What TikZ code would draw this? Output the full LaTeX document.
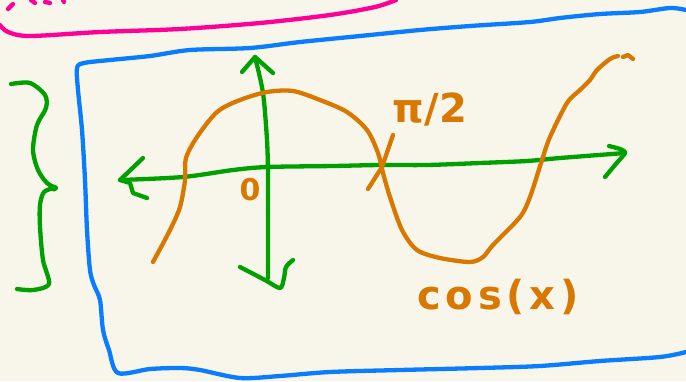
\documentclass[tikz,border=0pt]{standalone}
\usepackage{fontspec}
\setmainfont{DejaVu Sans}
\definecolor{bgc}{RGB}{248,246,234}
\definecolor{pinkc}{RGB}{255,0,150}
\definecolor{bluec}{RGB}{10,125,255}
\definecolor{greenc}{RGB}{0,160,0}
\definecolor{orangec}{RGB}{217,120,0}
\begin{document}
\begin{tikzpicture}[x=1pt,y=-1pt,
  pen/.style={line width=4.3pt, line cap=round, line join=round},
  lbl/.style={text=orangec, inner sep=0pt}]
\fill[bgc] (0,0) rectangle (686,381);
\useasboundingbox (0,0) rectangle (686,381);
% pink
\draw[pen,pinkc] plot[smooth,tension=0.5] coordinates {(0,25) (8,32) (30,36) (100,32) (180,29) (260,23) (330,15) (375,7) (396,0)};
\draw[pen,pinkc] (8,9) -- (13,4);
\draw[pen,pinkc] (31,0) -- (35,3);
\draw[pen,pinkc] (45,2) -- (50,3);
\draw[pen,pinkc] (63,0) -- (64,2);
% blue frame
\draw[pen,bluec] plot[smooth,tension=0.5] coordinates {(686,10) (670,8) (640,12) (600,14) (560,18) (530,22) (470,26) (420,30) (360,36) (300,42) (250,48) (190,50) (150,56) (110,60) (84,63) (77,68) (78,90) (82,130) (85,180) (87,230) (90,270) (94,285) (100,300) (103,330) (109,350) (118,373) (150,369) (180,368) (200,370) (240,378) (280,376) (330,372) (400,370) (480,368) (540,366) (600,361) (660,357) (686,352)};
% green brace
\draw[pen,greenc] plot[smooth,tension=0.5] coordinates {(11,84) (30,83) (45,95) (46,108) (37,125) (33,150) (38,170) (47,183) (56,188)};
\draw[pen,greenc] plot[smooth,tension=0.5] coordinates {(54,188) (44,192) (40,205) (40,227) (43,260) (49,284) (33,290) (17,289)};
\fill[greenc] (54,188) circle (3.5pt);
% horizontal axis
\draw[pen,greenc] plot[smooth,tension=0.5] coordinates {(120,180) (183,177) (233,170) (267,167) (333,166) (380,165) (427,165) (480,163) (527,161) (560,158) (625,153)};
\draw[pen,greenc] (143,158) -- (120,180) -- (130,183) -- (133,193) -- (147,198);
\draw[pen,greenc] plot[smooth,tension=0.4] coordinates {(609,146) (620,149) (625,153) (615,165) (605,177)};
% vertical axis
\draw[pen,greenc] plot[smooth,tension=0.5] coordinates {(255,57) (263,93) (267,140) (268,173) (268,207) (268,240) (268,278)};
\draw[pen,greenc] (242,72) -- (255,57) -- (273,73);
\draw[pen,greenc] plot[smooth,tension=0.5] coordinates {(240,267) (265,280) (280,288) (284,278) (286,267) (293,260)};
% cos curve
\draw[pen,orangec] plot[smooth,tension=0.5] coordinates {(153,262) (170,230) (180,207) (185,180) (186,158) (197,137) (217,112) (240,100) (267,92) (293,91) (320,100) (347,112) (367,130) (378,153) (383,173) (390,197) (402,230) (417,250) (440,258) (470,262) (483,257) (493,245) (520,217) (530,197) (542,160) (550,137) (567,103) (580,90) (590,80) (597,70) (610,59) (618,56)};
\draw[pen,orangec] (623,57) -- (628,55) -- (633,59);
\draw[pen,orangec] (368,189) -- (382,167) -- (393,135);
% labels
\node[lbl,font=\bfseries\fontsize{30}{30}\selectfont] (zero) at (250,190) {0};
\node[lbl,font=\bfseries\fontsize{40}{40}\selectfont] (pi) at (430,110) {π/2};
\node[lbl,font=\bfseries\fontsize{40}{40}\selectfont\addfontfeature{LetterSpace=12}] (cos) at (498,297) {cos(x)};
\end{tikzpicture}
\end{document}
